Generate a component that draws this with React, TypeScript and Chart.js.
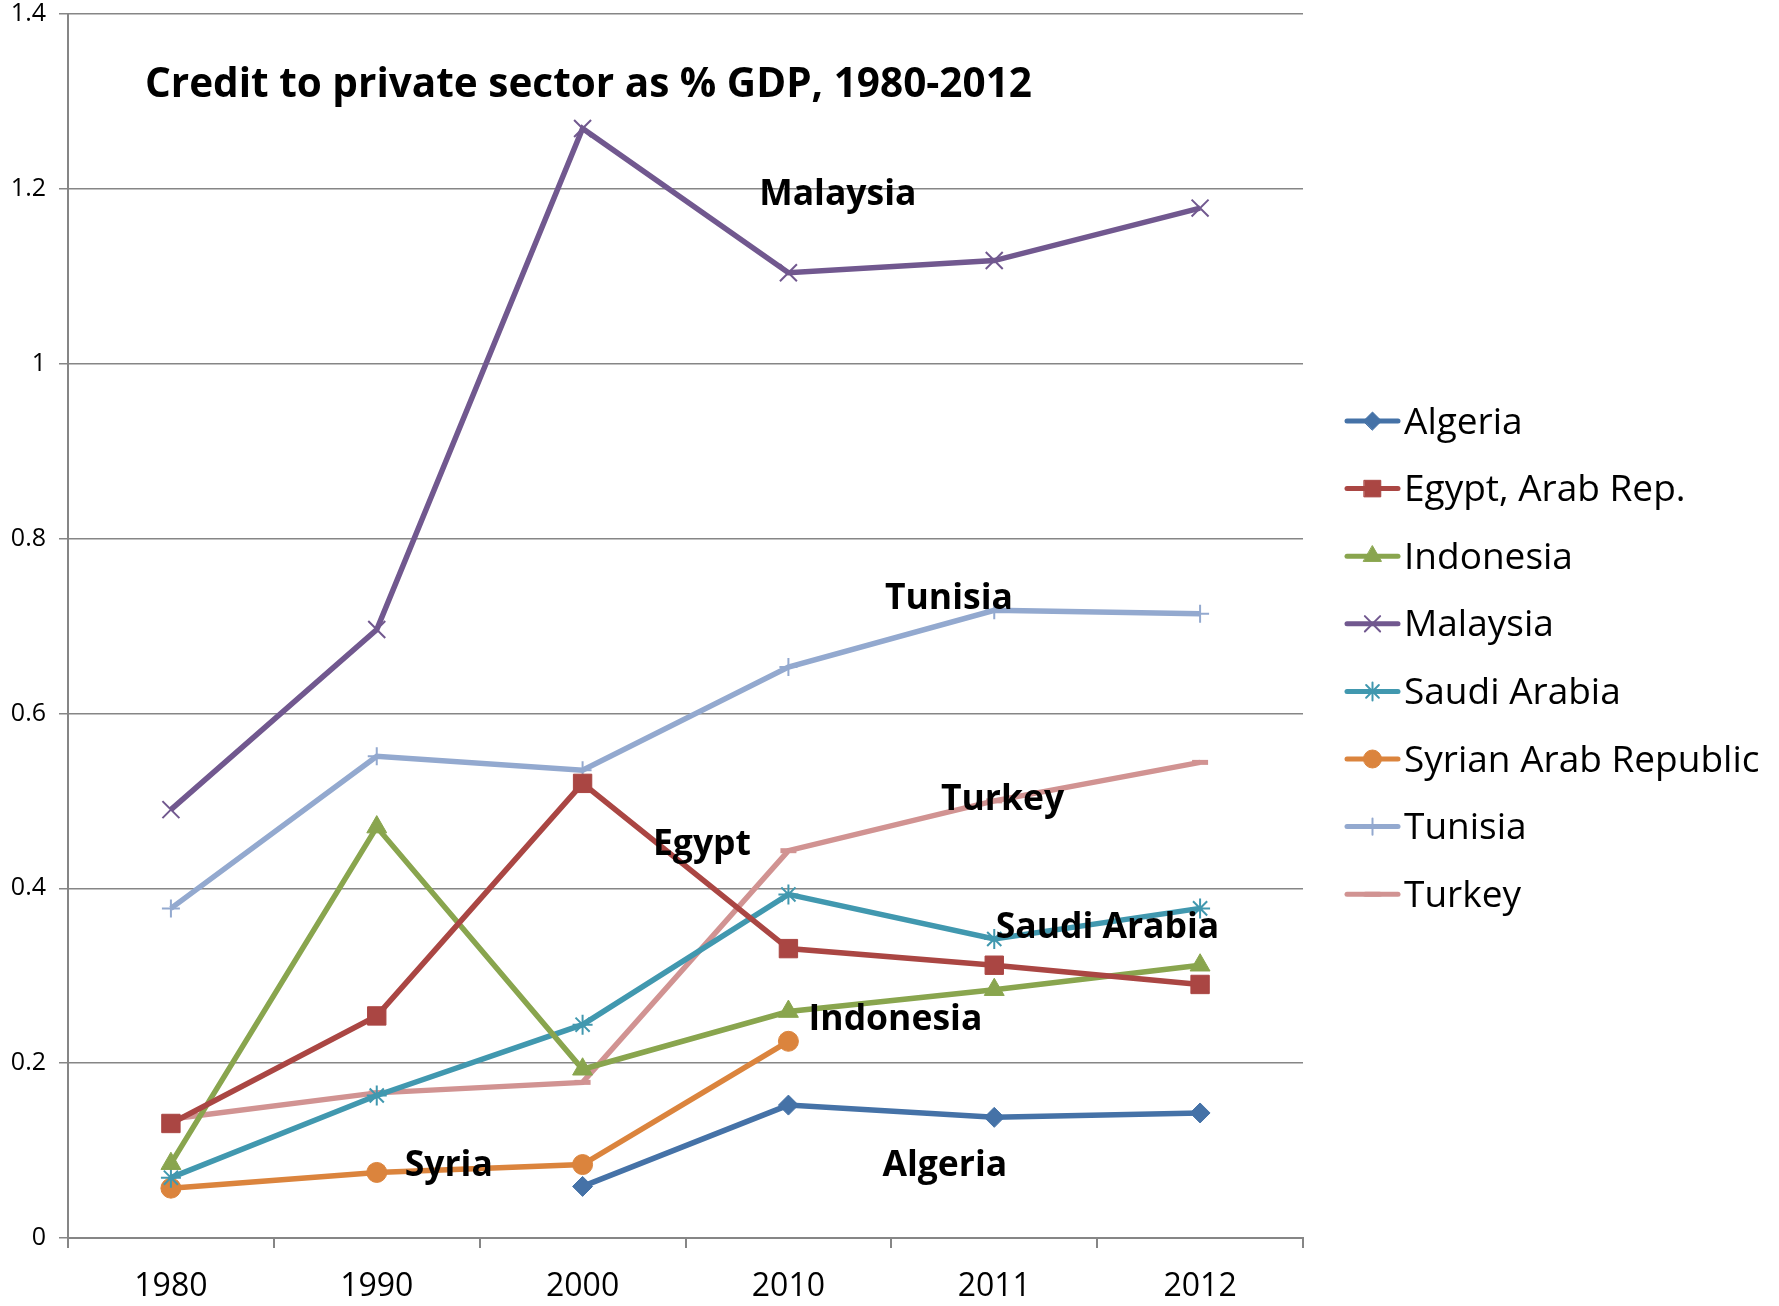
import React, { useEffect, useRef } from 'react';
import { Chart, registerables } from 'chart.js';
import { drawPoint } from 'chart.js/helpers';

Chart.register(...registerables);

const years = ['1980', '1990', '2000', '2010', '2011', '2012'];
const yTickValues = [0, 0.2, 0.4, 0.6, 0.8, 1, 1.2, 1.4];
const yTickLabels = ['0', '0.2', '0.4', '0.6', '0.8', '1', '1.2', '1.4'];

const algeria = [null, null, 0.059, 0.152, 0.138, 0.143];
const egypt = [0.131, 0.254, 0.52, 0.331, 0.312, 0.29];
const indonesia = [0.085, 0.47, 0.193, 0.259, 0.284, 0.312];
const malaysia = [0.49, 0.696, 1.269, 1.104, 1.118, 1.178];
const saudiArabia = [0.069, 0.163, 0.244, 0.393, 0.342, 0.377];
const syria = [0.057, 0.075, 0.084, 0.225, null, null];
const tunisia = [0.377, 0.551, 0.535, 0.653, 0.718, 0.714];
const turkey = [0.136, 0.166, 0.178, 0.443, 0.5, 0.544];

const seriesNames = [
  'Algeria',
  'Egypt, Arab Rep.',
  'Indonesia',
  'Malaysia',
  'Saudi Arabia',
  'Syrian Arab Republic',
  'Tunisia',
  'Turkey',
];

const chartTitle = 'Credit to private sector as % GDP, 1980-2012';

// in-plot labels: text, category position, value
const labelTexts = ['Malaysia', 'Tunisia', 'Turkey', 'Egypt', 'Saudi Arabia', 'Indonesia', 'Syria', 'Algeria'];
const labelX = [3.24, 3.78, 4.04, 2.58, 4.55, 3.52, 1.35, 3.76];
const labelY = [1.196, 0.735, 0.505, 0.453, 0.358, 0.253, 0.086, 0.086];

const FONT = "'Open Sans', 'Noto Sans', sans-serif";
const SHIFT = 4;

const styles = [
  { color: '#4572A7', point: 'rectRot', radius: 10, bw: 1 },
  { color: '#AA4643', point: 'rect', radius: 13, bw: 1 },
  { color: '#89A54E', point: 'triangle', radius: 11.5, bw: 1 },
  { color: '#71588F', point: 'crossRot', radius: 12, bw: 2 },
  { color: '#4198AF', point: 'star', radius: 10, bw: 2 },
  { color: '#DB843D', point: 'circle', radius: 10, bw: 1 },
  { color: '#93A9CF', point: 'cross', radius: 9, bw: 2 },
  { color: '#D19392', point: 'line', radius: 8, bw: 5 },
];

const seriesData = [algeria, egypt, indonesia, malaysia, saudiArabia, syria, tunisia, turkey];

const overlayPlugin = {
  id: 'overlay',
  afterDatasetsDraw(chart: any) {
    const ctx = chart.ctx;
    const xs = chart.scales.x;
    const ys = chart.scales.y;
    ctx.save();
    ctx.fillStyle = '#000';
    ctx.font = `bold 40.5px ${FONT}`;
    ctx.textAlign = 'left';
    ctx.textBaseline = 'middle';
    ctx.fillText(chartTitle, xs.getPixelForValue(-0.126), ys.getPixelForValue(1.322) + 3);
    ctx.font = `bold 35.5px ${FONT}`;
    ctx.textAlign = 'center';
    labelTexts.forEach((t, i) => {
      ctx.fillText(t, xs.getPixelForValue(labelX[i]), ys.getPixelForValue(labelY[i]) + 3);
    });
    const lx0 = 1347;
    const lx1 = 1398;
    const ty0 = 421 + SHIFT;
    const step = 67.6;
    seriesNames.forEach((name, i) => {
      const s = styles[i];
      const y = ty0 + i * step;
      ctx.strokeStyle = s.color;
      ctx.lineWidth = 5;
      ctx.lineCap = 'round';
      ctx.beginPath();
      ctx.moveTo(lx0, y);
      ctx.lineTo(lx1, y);
      ctx.stroke();
      ctx.fillStyle = s.color;
      ctx.strokeStyle = s.color;
      ctx.lineWidth = s.bw;
      drawPoint(ctx, { pointStyle: s.point, radius: s.radius * 0.9, rotation: 0, borderWidth: s.bw } as any, (lx0 + lx1) / 2, y);
      ctx.fillStyle = '#000';
      ctx.font = `37px ${FONT}`;
      ctx.textAlign = 'left';
      ctx.textBaseline = 'middle';
      ctx.fillText(name, lx1 + 6, y + 2);
    });
    ctx.restore();
  },
};

export default function App() {
  const ref = useRef<HTMLCanvasElement | null>(null);
  useEffect(() => {
    if (!ref.current) return;
    const chart = new Chart(ref.current, {
      type: 'line',
      data: {
        labels: years,
        datasets: seriesNames.map((name, i) => ({
          label: name,
          data: seriesData[i],
          borderColor: styles[i].color,
          backgroundColor: styles[i].color,
          pointBackgroundColor: styles[i].color,
          pointBorderColor: styles[i].color,
          pointStyle: styles[i].point as any,
          pointRadius: styles[i].radius,
          pointBorderWidth: styles[i].bw,
          borderWidth: 5.5,
          tension: 0,
          spanGaps: false,
          fill: false,
        })),
      },
      options: {
        animation: false,
        responsive: false,
        devicePixelRatio: 1,
        layout: { padding: { left: 0, right: 476, top: 10.5, bottom: 0 } },
        plugins: { legend: { display: false }, title: { display: false }, tooltip: { enabled: false } },
        scales: {
          x: {
            type: 'category',
            offset: true,
            grid: { offset: true, drawOnChartArea: false, drawTicks: true, tickLength: 10, color: '#868686', lineWidth: 2 },
            border: { color: '#868686', width: 2 },
            ticks: { color: '#000', font: { family: FONT, size: 32 }, padding: 20, maxRotation: 0 },
            afterFit: (s: any) => { s.height = 68; },
          },
          y: {
            min: 0,
            max: 1.4,
            afterBuildTicks: (s: any) => { s.ticks = yTickValues.map((v) => ({ value: v })); },
            grid: { color: '#868686', lineWidth: 1.5, tickLength: 9, drawTicks: true },
            border: { color: '#868686', width: 2 },
            ticks: {
              color: '#000',
              font: { family: FONT, size: 25, lineHeight: 0.4 },
              padding: 13,
              callback: (v: any) => {
                const idx = yTickValues.findIndex((t) => Math.abs(t - Number(v)) < 1e-9);
                return idx >= 0 ? yTickLabels[idx] : '';
              },
            },
            afterFit: (s: any) => { s.width = 68; },
          },
        },
      },
      plugins: [overlayPlugin],
    });
    return () => chart.destroy();
  }, []);
  return (
    <div style={{ position: 'fixed', left: 0, top: 0, width: 1779, height: 1306, background: '#fff', overflow: 'hidden' }}>
      <canvas
        ref={ref}
        width={1779}
        height={1306 + SHIFT}
        style={{ position: 'absolute', left: 0, top: -SHIFT, width: 1779, height: 1306 + SHIFT }}
      />
    </div>
  );
}
